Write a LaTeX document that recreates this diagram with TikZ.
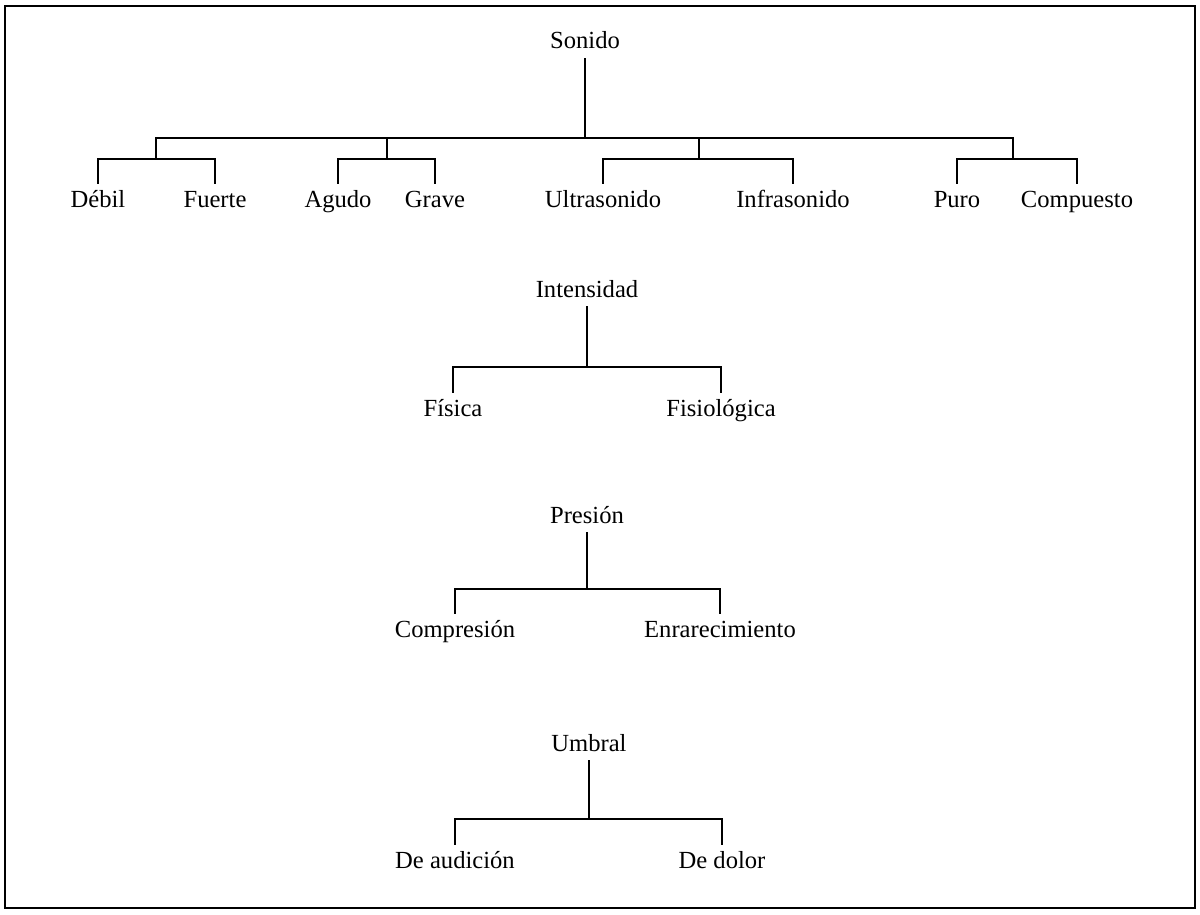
\documentclass[tikz,border=0pt]{standalone}
\usepackage{fontspec}
\setmainfont{Liberation Serif}
\begin{document}
\begin{tikzpicture}[x=0.5pt,y=-0.5pt,
  lbl/.style={inner sep=0pt, outer sep=3pt, text height=9pt, text depth=2pt, font=\fontsize{12.3}{14}\selectfont},
  conn/.style={line width=1pt, line cap=rect, line join=miter},
  frame/.style={line width=1.2pt}]
\useasboundingbox (0,0) rectangle (1200,915);
\draw[frame] (5,6) rectangle (1195,908);

% ---- Sonido ----
\node[lbl] (sonido) at (585,42) {Sonido};
\node[lbl] (debil) at (98,200) {Débil};
\node[lbl] (fuerte) at (215,200) {Fuerte};
\node[lbl] (agudo) at (338,200) {Agudo};
\node[lbl] (grave) at (435,200) {Grave};
\node[lbl] (ultra) at (603,200) {Ultrasonido};
\node[lbl] (infra) at (793,200) {Infrasonido};
\node[lbl] (puro) at (957,200) {Puro};
\node[lbl] (comp) at (1077,200) {Compuesto};
\coordinate (s0) at (585,138);
\coordinate (s1) at (156,159);
\coordinate (s2) at (387,159);
\coordinate (s3) at (699,159);
\coordinate (s4) at (1013,159);
\draw[conn] (sonido.south) -- (s0);
\draw[conn] (s1 |- s0) -- (s4 |- s0);
\draw[conn] (s1 |- s0) -- (s1);
\draw[conn] (s2 |- s0) -- (s2);
\draw[conn] (s3 |- s0) -- (s3);
\draw[conn] (s4 |- s0) -- (s4);
\draw[conn] (debil.north) |- (s1) -| (fuerte.north);
\draw[conn] (agudo.north) |- (s2) -| (grave.north);
\draw[conn] (ultra.north) |- (s3) -| (infra.north);
\draw[conn] (puro.north) |- (s4) -| (comp.north);

% ---- Intensidad ----
\node[lbl] (intens) at (587,290) {Intensidad};
\node[lbl] (fisica) at (453,409) {Física};
\node[lbl] (fisio) at (721,409) {Fisiológica};
\coordinate (i0) at (587,367);
\draw[conn] (intens.south) -- (i0);
\draw[conn] (fisica.north) |- (i0) -| (fisio.north);

% ---- Presión ----
\node[lbl] (presion) at (587,516) {Presión};
\node[lbl] (compr) at (455,630) {Compresión};
\node[lbl] (enrar) at (720,630) {Enrarecimiento};
\coordinate (p0) at (587,589);
\draw[conn] (presion.south) -- (p0);
\draw[conn] (compr.north) |- (p0) -| (enrar.north);

% ---- Umbral ----
\node[lbl] (umbral) at (589,744) {Umbral};
\node[lbl] (audic) at (455,861) {De audición};
\node[lbl] (dolor) at (722,861) {De dolor};
\coordinate (u0) at (589,819);
\draw[conn] (umbral.south) -- (u0);
\draw[conn] (audic.north) |- (u0) -| (dolor.north);
\end{tikzpicture}
\end{document}
